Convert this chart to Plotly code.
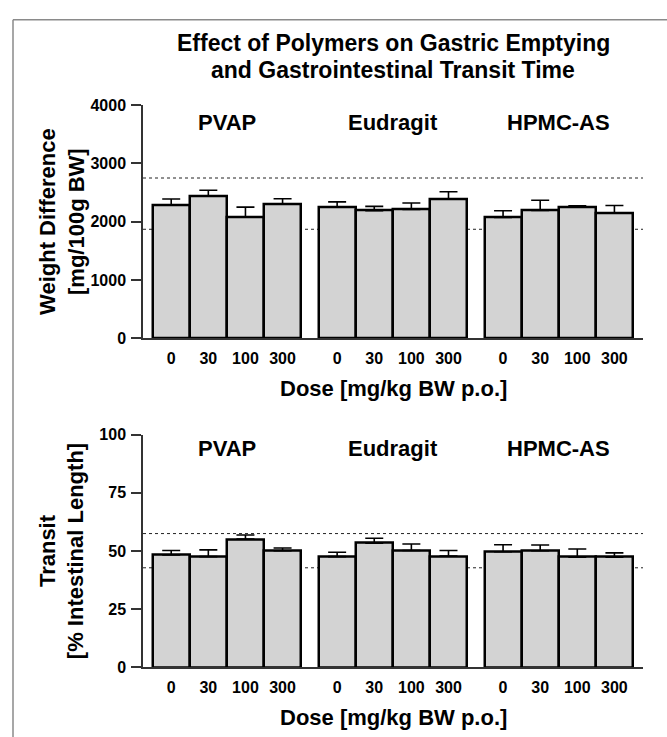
import plotly.graph_objects as go

# ---- data ----
groups = ["PVAP", "Eudragit", "HPMC-AS"]
doses = ["0", "30", "100", "300"]

weight_mean = [2290, 2445, 2085, 2300, 2255, 2190, 2210, 2385, 2075, 2195, 2250, 2145]
weight_err = [100, 95, 165, 95, 85, 73, 112, 128, 112, 172, 25, 132]
weight_ref = [1870, 2750]

transit_mean = [48.3, 47.6, 55.1, 50.1, 47.6, 53.4, 50.2, 47.8, 49.7, 50.1, 47.4, 47.4]
transit_err = [1.9, 2.9, 1.8, 1.2, 1.9, 2.1, 2.8, 2.4, 3.0, 2.5, 3.5, 1.8]
transit_ref = [42.8, 57.5]

title_lines = ["Effect of Polymers on Gastric Emptying", "and Gastrointestinal Transit Time"]
x_title = "Dose [mg/kg BW p.o.]"
y_titles = ["Weight Difference<br>[mg/100g BW]", "Transit<br>[% Intestinal Length]"]

# ---- layout helpers ----
W, H = 667, 737
FONT = "Liberation Sans, Arial, sans-serif"
stride = 4.47
xpos = [g * stride + i for g in range(len(groups)) for i in range(len(doses))]
tick_text = doses * len(groups)
group_centers = [g * stride + (len(doses) - 1) / 2 for g in range(len(groups))]
xrange = [-0.76, xpos[-1] + 0.5 + 0.27]

def px_x(p):
    return p / W

def px_y(p):
    return 1 - p / H

fig = go.Figure()

panels = [
    dict(mean=weight_mean, err=weight_err, ref=weight_ref, xa="x", ya="y",
         rng=[0, 4000], dtick=1000, ytitle=y_titles[0]),
    dict(mean=transit_mean, err=transit_err, ref=transit_ref, xa="x2", ya="y2",
         rng=[0, 100], dtick=25, ytitle=y_titles[1]),
]

for p in panels:
    fig.add_trace(go.Bar(
        x=xpos, y=p["mean"], width=[1] * len(xpos),
        xaxis=p["xa"], yaxis=p["ya"],
        marker=dict(color="#d3d3d3", line=dict(color="black", width=2.5)),
        error_y=dict(type="data", symmetric=False, array=p["err"],
                     arrayminus=[0] * len(p["err"]),
                     color="black", thickness=1.6, width=9),
        showlegend=False,
    ))

axis_common = dict(showline=True, linecolor="#333", linewidth=1.5,
                   showgrid=False, zeroline=False, fixedrange=True)

xdom = [px_x(143), px_x(643)]
ydom_top = [px_y(338), px_y(99.5)]
ydom_bot = [px_y(675), px_y(436.7)]

for xa, ya, dom, p in [("xaxis", "yaxis", ydom_top, panels[0]),
                       ("xaxis2", "yaxis2", ydom_bot, panels[1])]:
    yanchor = "x" if xa == "xaxis" else "x2"
    xanchor = "y" if ya == "yaxis" else "y2"
    fig.update_layout({
        xa: dict(axis_common, domain=xdom, range=xrange, anchor=xanchor,
                 tickmode="array", tickvals=xpos, ticktext=tick_text,
                 ticks="", ticklabelstandoff=5,
                 tickfont=dict(family=FONT, size=16, color="black", weight="bold")),
        ya: dict(axis_common, domain=dom, range=p["rng"], anchor=yanchor,
                 tickmode="linear", tick0=0, dtick=p["dtick"],
                 ticks="outside", ticklen=10, tickwidth=1.5, tickcolor="#333",
                 ticklabelstandoff=2,
                 tickfont=dict(family=FONT, size=16, color="black", weight="bold")),
    })

shapes = []
for p, yref in [(panels[0], "y"), (panels[1], "y2")]:
    xr = "x domain" if yref == "y" else "x2 domain"
    for v in p["ref"]:
        shapes.append(dict(type="line", xref=xr, yref=yref, x0=0, x1=1, y0=v, y1=v,
                           line=dict(color="#222", width=1, dash="dot"), layer="below"))

# frame
shapes.append(dict(type="line", xref="paper", yref="paper",
                   x0=px_x(13), x1=1.05, y0=px_y(12), y1=px_y(12),
                   line=dict(color="#8a8a8a", width=1.5)))
shapes.append(dict(type="line", xref="paper", yref="paper",
                   x0=px_x(13), x1=px_x(13), y0=px_y(12), y1=-0.05,
                   line=dict(color="#8a8a8a", width=1.5)))

annotations = []
bold = lambda s: dict(family=FONT, size=s, color="black", weight="bold")

for txt, yy in zip(title_lines, [36, 63]):
    annotations.append(dict(text=txt, xref="paper", yref="paper", x=px_x(393), y=px_y(yy),
                            xanchor="center", yanchor="middle", showarrow=False, font=bold(23)))

for xr, yr, gy in [("x", "y domain", 0.925), ("x2", "y2 domain", 0.942)]:
    for g, c in zip(groups, group_centers):
        annotations.append(dict(text=g, xref=xr, yref=yr, x=c, y=gy,
                                xanchor="center", yanchor="middle", showarrow=False,
                                font=bold(22)))

for yy in [389, 726]:
    annotations.append(dict(text=x_title, xref="paper", yref="paper", x=px_x(393), y=px_y(yy),
                            xanchor="center", yanchor="middle", showarrow=False, font=bold(22)))

for t, yy in zip(y_titles, [219, 556]):
    annotations.append(dict(text=t, xref="paper", yref="paper", x=px_x(62), y=px_y(yy),
                            xanchor="center", yanchor="middle", showarrow=False,
                            textangle=-90, font=bold(22)))

fig.update_layout(
    width=W, height=H,
    margin=dict(l=0, r=0, t=0, b=0),
    paper_bgcolor="white", plot_bgcolor="white",
    barmode="overlay", bargap=0,
    shapes=shapes, annotations=annotations,
    showlegend=False,
)

fig.write_html("out.html", config={"displayModeBar": False})
